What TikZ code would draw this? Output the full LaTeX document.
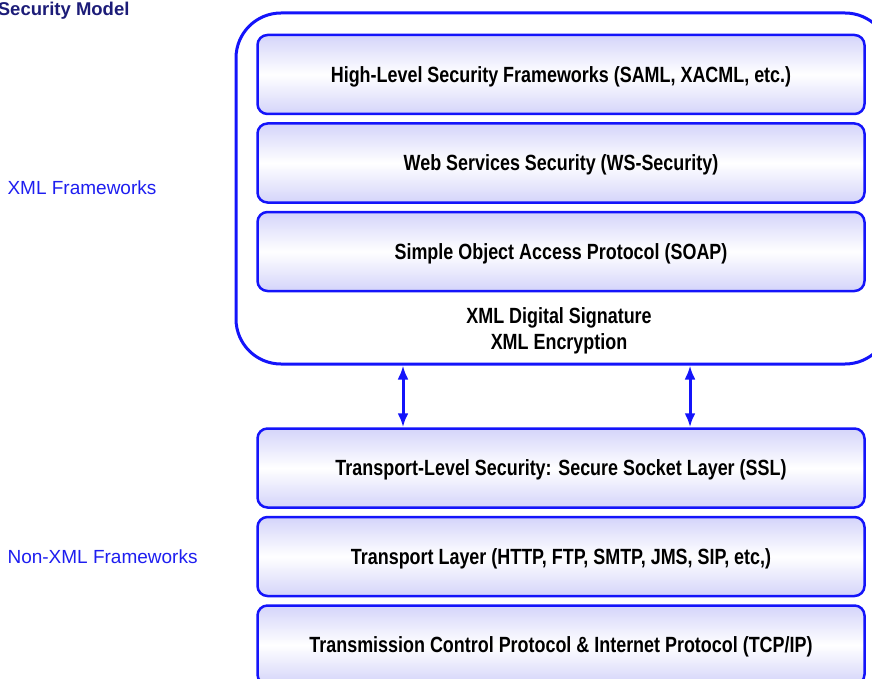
\documentclass[tikz,border=0pt]{standalone}
\usepackage{fontspec}
\setmainfont{Liberation Sans}
\newfontfamily\narrowfont[FakeStretch=0.815]{Liberation Sans}
\usepackage{tikz}
\usetikzlibrary{shapes,arrows.meta,positioning}
\definecolor{LayerBlue}{RGB}{20,20,250}
\definecolor{LabelBlue}{RGB}{30,30,240}
\definecolor{TitleNavy}{RGB}{28,28,120}
\definecolor{Lavender}{RGB}{212,212,250}
\tikzset{
  every node/.style={
    font=\narrowfont\bfseries\fontsize{22}{26}\selectfont
  },
  layer/.style={
    shape=rectangle,
    rounded corners=10pt,
    draw=LayerBlue,
    line width=2.5pt,
    top color=Lavender,
    bottom color=Lavender,
    middle color=white,
    minimum width=607pt,
    minimum height=79pt,
    text depth=0pt,
    text centered
  },
  frame/.style={
    shape=rectangle,
    rounded corners=45pt,
    draw=LayerBlue,
    line width=3pt,
    minimum width=654pt,
    minimum height=351pt
  },
  side label/.style={
    text=LabelBlue,
    font=\fontsize{19}{22}\selectfont
  },
  title/.style={
    text=TitleNavy,
    font=\bfseries\fontsize{18.5}{22}\selectfont
  },
  updown/.style={
    draw=LayerBlue,
    line width=3pt,
    {Latex[length=14pt,width=11pt]}-{Latex[length=14pt,width=11pt]}
  }
}
\begin{document}
\begin{tikzpicture}[x=1pt,y=-1pt]
    \useasboundingbox (0,0) rectangle (872,679);
    \node [title, anchor=base east] (title) at (133,16) {Security Model};
    \node [frame] (xmlframe) at (563,188.5) {};
    \node [layer] (saml) at (561,74.5) {High-Level Security Frameworks (SAML, XACML, etc.)};
    \node [layer, below=7pt of saml] (wss) {Web Services Security (WS-Security)};
    \node [layer, below=7pt of wss] (soap) {Simple Object Access Protocol (SOAP)};
    \node [align=center] (xmlsig) at (559,331) {XML Digital Signature\\XML Encryption};
    \node [layer] (ssl) at (561,468) {Transport-Level Security: Secure Socket Layer (SSL)};
    \node [layer, below=7pt of ssl] (transport) {Transport Layer (HTTP, FTP, SMTP, JMS, SIP, etc,)};
    \node [layer, below=7pt of transport] (tcpip) {Transmission Control Protocol \& Internet Protocol (TCP/IP)};
    \node [side label, anchor=base west] (xmllabel) at (4,194) {XML Frameworks};
    \node [side label, anchor=base west] (nonxmllabel) at (4,563) {Non-XML Frameworks};
    \coordinate (leftarrow) at (403,0);
    \coordinate (rightarrow) at (690,0);
    \draw [updown] (xmlframe.south -| leftarrow) -- (ssl.north -| leftarrow);
    \draw [updown] (xmlframe.south -| rightarrow) -- (ssl.north -| rightarrow);
\end{tikzpicture}
\end{document}
